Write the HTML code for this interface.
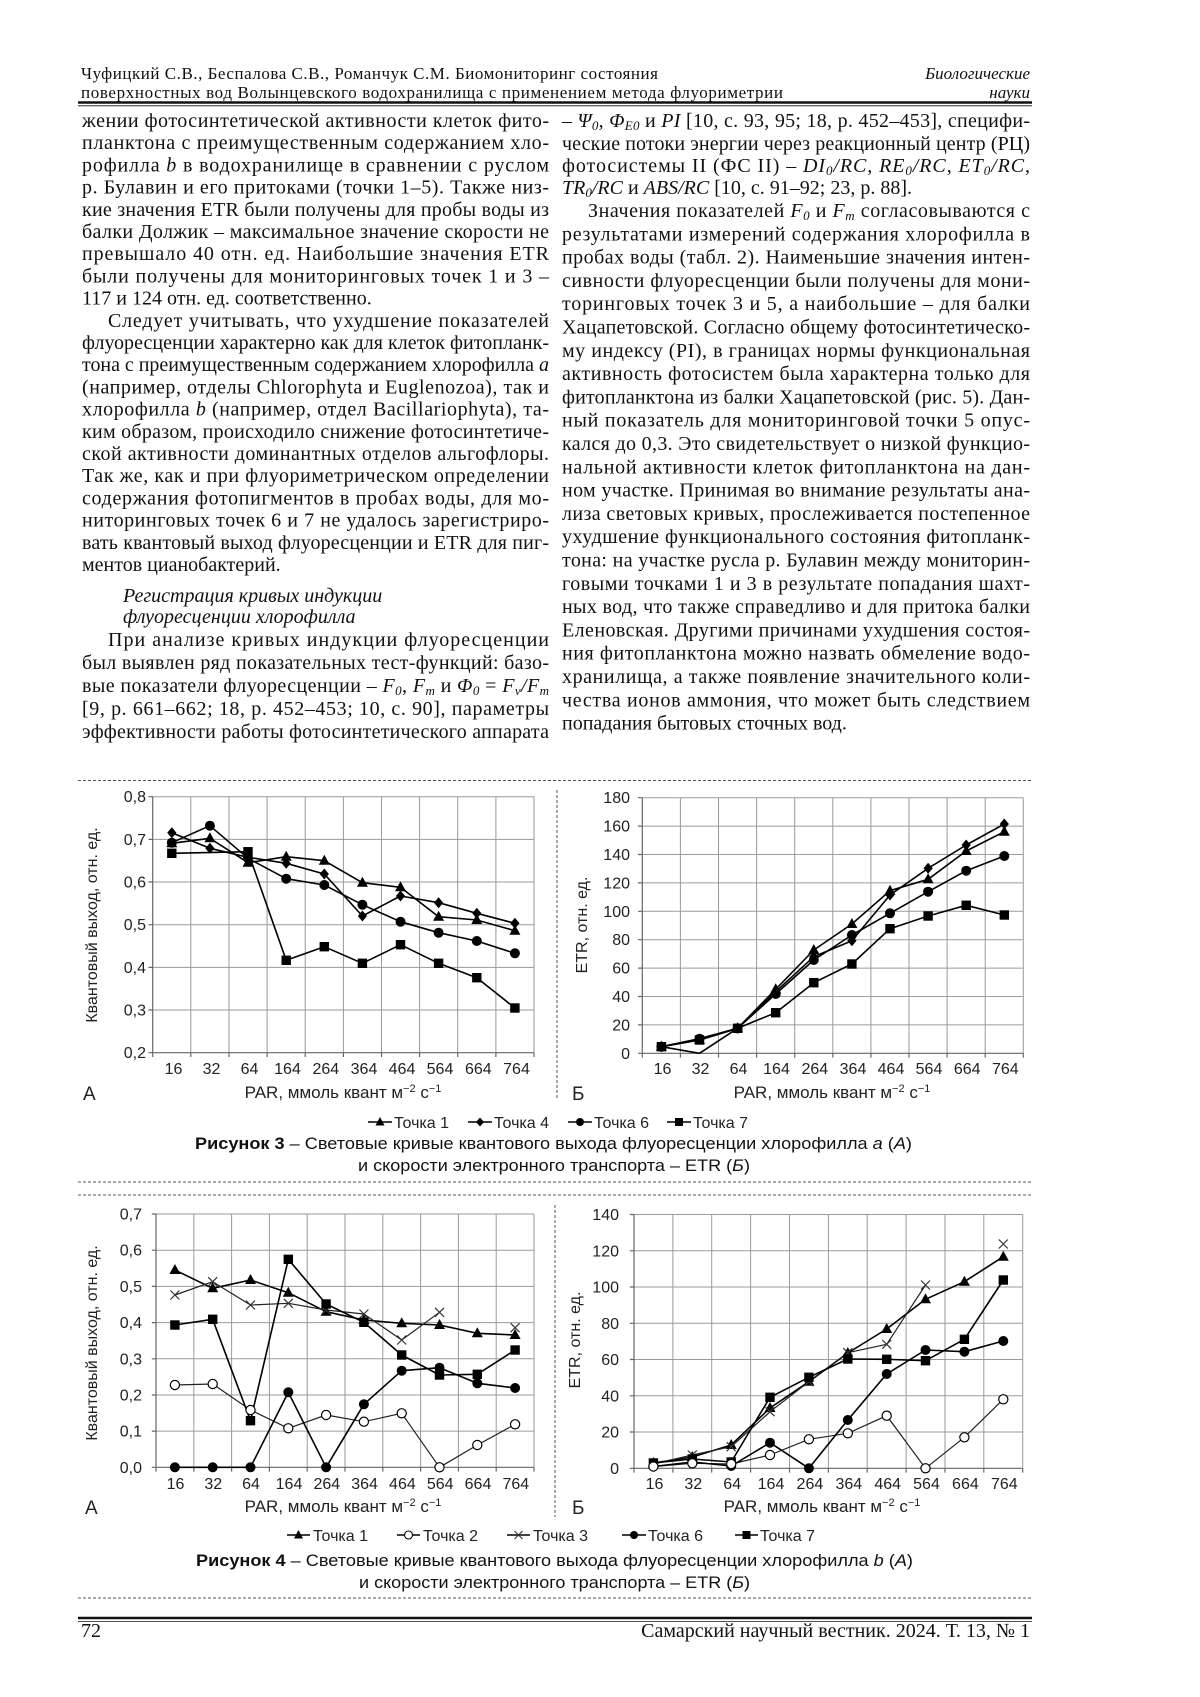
<!DOCTYPE html>
<html><head><meta charset="utf-8">
<style>
html,body{margin:0;padding:0;background:#fff}
svg{display:block}
.b{font-family:"Liberation Serif","DejaVu Serif",serif;font-size:20px;fill:#111}
.h{font-family:"Liberation Serif","DejaVu Serif",serif;font-size:17px;fill:#111}
.s{font-family:"Liberation Sans","DejaVu Sans",sans-serif;font-size:16px;fill:#222}
.c{font-family:"Liberation Sans","DejaVu Sans",sans-serif;font-size:17px;fill:#111}
.grid{stroke:#9a9a9a;stroke-width:1;fill:none}
.ax{stroke:#666;stroke-width:1.2;fill:none}
.ln{stroke:#000;stroke-width:1.6;fill:none;stroke-linejoin:round}
.ln2{stroke:#222;stroke-width:1.2;fill:none;stroke-linejoin:round}
.dash{stroke:#555;stroke-width:1;stroke-dasharray:3 2;fill:none}
</style></head>
<body>
<svg width="1200" height="1697" viewBox="0 0 1200 1697" xmlns="http://www.w3.org/2000/svg">
<defs>
<path id="tri" d="M0,-6 L5.5,4 L-5.5,4Z" fill="#000"/>
<path id="dia" d="M0,-5.5 L4.6,0 L0,5.5 L-4.6,0Z" fill="#000"/>
<circle id="cir" r="5" fill="#000"/>
<rect id="sq" x="-4.7" y="-4.7" width="9.4" height="9.4" fill="#000"/>
<circle id="oc" r="4.6" fill="#fff" stroke="#000" stroke-width="1.2"/>
<path id="xm" d="M-4.5,-4.5L4.5,4.5M-4.5,4.5L4.5,-4.5" stroke="#333" stroke-width="1.2" fill="none"/>
<path id="tris" d="M0,-5 L4.5,3.5 L-4.5,3.5Z" fill="#000"/>
<path id="dias" d="M0,-4.5 L4,0 L0,4.5 L-4,0Z" fill="#000"/>
<circle id="cirs" r="4" fill="#000"/>
<rect id="sqs" x="-4" y="-4" width="8" height="8" fill="#000"/>
<circle id="ocs" r="4" fill="#fff" stroke="#000" stroke-width="1.1"/>
<path id="xms" d="M-4,-4L4,4M-4,4L4,-4" stroke="#333" stroke-width="1.1" fill="none"/>
</defs>

<!-- HEADER -->
<text class="h" x="81" y="79" textLength="577" lengthAdjust="spacing">Чуфицкий С.В., Беспалова С.В., Романчук С.М. Биомониторинг состояния</text>
<text class="h" x="81" y="98" textLength="702" lengthAdjust="spacing">поверхностных вод Волынцевского водохранилища с применением метода флуориметрии</text>
<text class="h" x="1030" y="79" text-anchor="end" font-style="italic">Биологические</text>
<text class="h" x="1030" y="98" text-anchor="end" font-style="italic">науки</text>
<line x1="78" y1="102.5" x2="1032" y2="102.5" stroke="#111" stroke-width="2.4"/>
<line x1="78" y1="105.8" x2="1032" y2="105.8" stroke="#111" stroke-width="0.8"/>

<!-- LEFT COLUMN -->
<text class="b" x="82" y="127" textLength="467" lengthAdjust="spacing">жении фотосинтетической активности клеток фито-</text>
<text class="b" x="82" y="149.2" textLength="467" lengthAdjust="spacing">планктона с преимущественным содержанием хло-</text>
<text class="b" x="82" y="171.4" textLength="467" lengthAdjust="spacing">рофилла <tspan font-style="italic">b</tspan> в водохранилище в сравнении с руслом</text>
<text class="b" x="82" y="193.6" textLength="467" lengthAdjust="spacing">р. Булавин и его притоками (точки 1–5). Также низ-</text>
<text class="b" x="82" y="215.8" textLength="467" lengthAdjust="spacing">кие значения ETR были получены для пробы воды из</text>
<text class="b" x="82" y="238" textLength="467" lengthAdjust="spacing">балки Должик – максимальное значение скорости не</text>
<text class="b" x="82" y="260.2" textLength="467" lengthAdjust="spacing">превышало 40 отн. ед. Наибольшие значения ETR</text>
<text class="b" x="82" y="282.4" textLength="467" lengthAdjust="spacing">были получены для мониторинговых точек 1 и 3 –</text>
<text class="b" x="82" y="304.6">117 и 124 отн. ед. соответственно.</text>
<text class="b" x="108" y="326.8" textLength="441" lengthAdjust="spacing">Следует учитывать, что ухудшение показателей</text>
<text class="b" x="82" y="349" textLength="467" lengthAdjust="spacing">флуоресценции характерно как для клеток фитопланк-</text>
<text class="b" x="82" y="371.2" textLength="467" lengthAdjust="spacing">тона с преимущественным содержанием хлорофилла <tspan font-style="italic">a</tspan></text>
<text class="b" x="82" y="393.4" textLength="467" lengthAdjust="spacing">(например, отделы Chlorophyta и Euglenozoa), так и</text>
<text class="b" x="82" y="415.6" textLength="467" lengthAdjust="spacing">хлорофилла <tspan font-style="italic">b</tspan> (например, отдел Bacillariophyta), та-</text>
<text class="b" x="82" y="437.8" textLength="467" lengthAdjust="spacing">ким образом, происходило снижение фотосинтетиче-</text>
<text class="b" x="82" y="460" textLength="467" lengthAdjust="spacing">ской активности доминантных отделов альгофлоры.</text>
<text class="b" x="82" y="482.2" textLength="467" lengthAdjust="spacing">Так же, как и при флуориметрическом определении</text>
<text class="b" x="82" y="504.4" textLength="467" lengthAdjust="spacing">содержания фотопигментов в пробах воды, для мо-</text>
<text class="b" x="82" y="526.6" textLength="467" lengthAdjust="spacing">ниторинговых точек 6 и 7 не удалось зарегистриро-</text>
<text class="b" x="82" y="548.8" textLength="467" lengthAdjust="spacing">вать квантовый выход флуоресценции и ETR для пиг-</text>
<text class="b" x="82" y="571">ментов цианобактерий.</text>
<text class="b" x="123" y="602" font-style="italic">Регистрация кривых индукции</text>
<text class="b" x="123" y="623" font-style="italic">флуоресценции хлорофилла</text>
<text class="b" x="108" y="646" textLength="441" lengthAdjust="spacing">При анализе кривых индукции флуоресценции</text>
<text class="b" x="82" y="669" textLength="467" lengthAdjust="spacing">был выявлен ряд показательных тест-функций: базо-</text>
<text class="b" x="82" y="692" textLength="467" lengthAdjust="spacing">вые показатели флуоресценции – <tspan font-style="italic">F</tspan><tspan font-size="13" font-style="italic" baseline-shift="-3">0</tspan>, <tspan font-style="italic">F</tspan><tspan font-size="13" font-style="italic" baseline-shift="-3">m</tspan> и <tspan font-style="italic">Φ</tspan><tspan font-size="13" font-style="italic" baseline-shift="-3">0</tspan> = <tspan font-style="italic">F</tspan><tspan font-size="13" font-style="italic" baseline-shift="-3">v</tspan><tspan font-style="italic">/F</tspan><tspan font-size="13" font-style="italic" baseline-shift="-3">m</tspan></text>
<text class="b" x="82" y="715" textLength="467" lengthAdjust="spacing">[9, p. 661–662; 18, p. 452–453; 10, c. 90], параметры</text>
<text class="b" x="82" y="738" textLength="467" lengthAdjust="spacing">эффективности работы фотосинтетического аппарата</text>

<!-- RIGHT COLUMN -->
<text class="b" x="562" y="127" textLength="468" lengthAdjust="spacing">– <tspan font-style="italic">Ψ</tspan><tspan font-size="13" font-style="italic" baseline-shift="-3">0</tspan>, <tspan font-style="italic">Φ</tspan><tspan font-size="13" font-style="italic" baseline-shift="-3">E0</tspan> и <tspan font-style="italic">PI</tspan> [10, c. 93, 95; 18, p. 452–453], специфи-</text>
<text class="b" x="562" y="150" textLength="468" lengthAdjust="spacing">ческие потоки энергии через реакционный центр (РЦ)</text>
<text class="b" x="562" y="172" textLength="468" lengthAdjust="spacing">фотосистемы II (ФС II) – <tspan font-style="italic">DI</tspan><tspan font-size="13" font-style="italic" baseline-shift="-3">0</tspan><tspan font-style="italic">/RC</tspan>, <tspan font-style="italic">RE</tspan><tspan font-size="13" font-style="italic" baseline-shift="-3">0</tspan><tspan font-style="italic">/RC</tspan>, <tspan font-style="italic">ET</tspan><tspan font-size="13" font-style="italic" baseline-shift="-3">0</tspan><tspan font-style="italic">/RC</tspan>,</text>
<text class="b" x="562" y="194"><tspan font-style="italic">TR</tspan><tspan font-size="13" font-style="italic" baseline-shift="-3">0</tspan><tspan font-style="italic">/RC</tspan> и <tspan font-style="italic">ABS/RC</tspan> [10, c. 91–92; 23, p. 88].</text>
<text class="b" x="588" y="217" textLength="442" lengthAdjust="spacing">Значения показателей <tspan font-style="italic">F</tspan><tspan font-size="13" font-style="italic" baseline-shift="-3">0</tspan> и <tspan font-style="italic">F</tspan><tspan font-size="13" font-style="italic" baseline-shift="-3">m</tspan> согласовываются с</text>
<text class="b" x="562" y="240.3" textLength="468" lengthAdjust="spacing">результатами измерений содержания хлорофилла в</text>
<text class="b" x="562" y="263.6" textLength="468" lengthAdjust="spacing">пробах воды (табл. 2). Наименьшие значения интен-</text>
<text class="b" x="562" y="286.9" textLength="468" lengthAdjust="spacing">сивности флуоресценции были получены для мони-</text>
<text class="b" x="562" y="310.2" textLength="468" lengthAdjust="spacing">торинговых точек 3 и 5, а наибольшие – для балки</text>
<text class="b" x="562" y="333.5" textLength="468" lengthAdjust="spacing">Хацапетовской. Согласно общему фотосинтетическо-</text>
<text class="b" x="562" y="356.8" textLength="468" lengthAdjust="spacing">му индексу (PI), в границах нормы функциональная</text>
<text class="b" x="562" y="380.1" textLength="468" lengthAdjust="spacing">активность фотосистем была характерна только для</text>
<text class="b" x="562" y="403.4" textLength="468" lengthAdjust="spacing">фитопланктона из балки Хацапетовской (рис. 5). Дан-</text>
<text class="b" x="562" y="426.7" textLength="468" lengthAdjust="spacing">ный показатель для мониторинговой точки 5 опус-</text>
<text class="b" x="562" y="450" textLength="468" lengthAdjust="spacing">кался до 0,3. Это свидетельствует о низкой функцио-</text>
<text class="b" x="562" y="473.3" textLength="468" lengthAdjust="spacing">нальной активности клеток фитопланктона на дан-</text>
<text class="b" x="562" y="496.6" textLength="468" lengthAdjust="spacing">ном участке. Принимая во внимание результаты ана-</text>
<text class="b" x="562" y="519.9" textLength="468" lengthAdjust="spacing">лиза световых кривых, прослеживается постепенное</text>
<text class="b" x="562" y="543.2" textLength="468" lengthAdjust="spacing">ухудшение функционального состояния фитопланк-</text>
<text class="b" x="562" y="566.5" textLength="468" lengthAdjust="spacing">тона: на участке русла р. Булавин между мониторин-</text>
<text class="b" x="562" y="589.8" textLength="468" lengthAdjust="spacing">говыми точками 1 и 3 в результате попадания шахт-</text>
<text class="b" x="562" y="613.1" textLength="468" lengthAdjust="spacing">ных вод, что также справедливо и для притока балки</text>
<text class="b" x="562" y="636.4" textLength="468" lengthAdjust="spacing">Еленовская. Другими причинами ухудшения состоя-</text>
<text class="b" x="562" y="659.7" textLength="468" lengthAdjust="spacing">ния фитопланктона можно назвать обмеление водо-</text>
<text class="b" x="562" y="683" textLength="468" lengthAdjust="spacing">хранилища, а также появление значительного коли-</text>
<text class="b" x="562" y="706.3" textLength="468" lengthAdjust="spacing">чества ионов аммония, что может быть следствием</text>
<text class="b" x="562" y="729.6">попадания бытовых сточных вод.</text>

<!-- FIGURE 3 separators -->
<line class="dash" x1="78" y1="780.5" x2="1032" y2="780.5"/>
<line class="dash" x1="557" y1="790" x2="557" y2="1100"/>

<!-- CHART 3A -->
<path class="grid" d="M152.7 796.7H534M152.7 839.4H534M152.7 882H534M152.7 924.7H534M152.7 967.4H534M152.7 1010H534M190.8 796.7V1052.7M229 796.7V1052.7M267.1 796.7V1052.7M305.2 796.7V1052.7M343.4 796.7V1052.7M381.5 796.7V1052.7M419.6 796.7V1052.7M457.7 796.7V1052.7M495.9 796.7V1052.7M534 796.7V1052.7"/>
<path class="ax" d="M152.7 796.7V1052.7H534M148.5 796.7H152.7M148.5 839.4H152.7M148.5 882H152.7M148.5 924.7H152.7M148.5 967.4H152.7M148.5 1010H152.7M148.5 1052.7H152.7M152.7 1052.7V1057M190.8 1052.7V1057M229 1052.7V1057M267.1 1052.7V1057M305.2 1052.7V1057M343.4 1052.7V1057M381.5 1052.7V1057M419.6 1052.7V1057M457.7 1052.7V1057M495.9 1052.7V1057M534 1052.7V1057"/>
<g class="s" text-anchor="end">
<text x="146" y="802.2">0,8</text><text x="146" y="844.9">0,7</text><text x="146" y="887.5">0,6</text><text x="146" y="930.2">0,5</text><text x="146" y="972.9">0,4</text><text x="146" y="1015.5">0,3</text><text x="146" y="1058.2">0,2</text>
</g>
<g class="s" text-anchor="middle">
<text x="173.5" y="1074">16</text><text x="211.5" y="1074">32</text><text x="249.5" y="1074">64</text><text x="287.5" y="1074">164</text><text x="325.8" y="1074">264</text><text x="364" y="1074">364</text><text x="402" y="1074">464</text><text x="440" y="1074">564</text><text x="478.3" y="1074">664</text><text x="516.5" y="1074">764</text>
<text x="343" y="1098" style="font-size:17px">PAR, ммоль квант м<tspan style="font-size:11px" baseline-shift="6">−2</tspan> с<tspan style="font-size:11px" baseline-shift="6">−1</tspan></text>
<text transform="translate(97,925) rotate(-90)">Квантовый выход, отн. ед.</text>
</g>
<text class="s" x="83" y="1100" style="font-size:19px">А</text>
<polyline class="ln" points="171.8,843.3 209.9,838.3 248,862.7 286.2,856.7 324.3,860.7 362.4,882.7 400.5,887.3 438.6,916.7 476.8,920 514.9,930.7"/>
<polyline class="ln" points="171.8,832.7 209.9,848.3 248,857.3 286.2,863.3 324.3,874 362.4,916 400.5,896 438.6,902.7 476.8,913.3 514.9,923.3"/>
<polyline class="ln" points="171.8,842.7 209.9,825.7 248,858.3 286.2,878.7 324.3,885 362.4,904.7 400.5,921.7 438.6,932.7 476.8,941 514.9,953.3"/>
<polyline class="ln" points="171.8,853.3 248,851.7 286.2,960.3 324.3,946.7 362.4,963.3 400.5,944.7 438.6,963.3 476.8,977.7 514.9,1008"/>
<g>
<use href="#tri" x="171.8" y="843.3"/><use href="#tri" x="209.9" y="838.3"/><use href="#tri" x="248" y="862.7"/><use href="#tri" x="286.2" y="856.7"/><use href="#tri" x="324.3" y="860.7"/><use href="#tri" x="362.4" y="882.7"/><use href="#tri" x="400.5" y="887.3"/><use href="#tri" x="438.6" y="916.7"/><use href="#tri" x="476.8" y="920"/><use href="#tri" x="514.9" y="930.7"/>
<use href="#dia" x="171.8" y="832.7"/><use href="#dia" x="209.9" y="848.3"/><use href="#dia" x="248" y="857.3"/><use href="#dia" x="286.2" y="863.3"/><use href="#dia" x="324.3" y="874"/><use href="#dia" x="362.4" y="916"/><use href="#dia" x="400.5" y="896"/><use href="#dia" x="438.6" y="902.7"/><use href="#dia" x="476.8" y="913.3"/><use href="#dia" x="514.9" y="923.3"/>
<use href="#cir" x="171.8" y="842.7"/><use href="#cir" x="209.9" y="825.7"/><use href="#cir" x="248" y="858.3"/><use href="#cir" x="286.2" y="878.7"/><use href="#cir" x="324.3" y="885"/><use href="#cir" x="362.4" y="904.7"/><use href="#cir" x="400.5" y="921.7"/><use href="#cir" x="438.6" y="932.7"/><use href="#cir" x="476.8" y="941"/><use href="#cir" x="514.9" y="953.3"/>
<use href="#sq" x="171.8" y="853.3"/><use href="#sq" x="248" y="851.7"/><use href="#sq" x="286.2" y="960.3"/><use href="#sq" x="324.3" y="946.7"/><use href="#sq" x="362.4" y="963.3"/><use href="#sq" x="400.5" y="944.7"/><use href="#sq" x="438.6" y="963.3"/><use href="#sq" x="476.8" y="977.7"/><use href="#sq" x="514.9" y="1008"/>
</g>

<!-- CHART 3B -->
<path class="grid" d="M642.3 797.7H1023.3M642.3 826.1H1023.3M642.3 854.5H1023.3M642.3 882.9H1023.3M642.3 911.3H1023.3M642.3 939.7H1023.3M642.3 968.1H1023.3M642.3 996.5H1023.3M642.3 1024.9H1023.3M680.4 797.7V1053.3M718.5 797.7V1053.3M756.6 797.7V1053.3M794.7 797.7V1053.3M832.8 797.7V1053.3M870.9 797.7V1053.3M909 797.7V1053.3M947.1 797.7V1053.3M985.2 797.7V1053.3M1023.3 797.7V1053.3"/>
<path class="ax" d="M642.3 797.7V1053.3H1023.3M638 797.7H642.3M638 826.1H642.3M638 854.5H642.3M638 882.9H642.3M638 911.3H642.3M638 939.7H642.3M638 968.1H642.3M638 996.5H642.3M638 1024.9H642.3M638 1053.3H642.3M642.3 1053.3V1057.6M680.4 1053.3V1057.6M718.5 1053.3V1057.6M756.6 1053.3V1057.6M794.7 1053.3V1057.6M832.8 1053.3V1057.6M870.9 1053.3V1057.6M909 1053.3V1057.6M947.1 1053.3V1057.6M985.2 1053.3V1057.6M1023.3 1053.3V1057.6"/>
<g class="s" text-anchor="end">
<text x="630" y="803.2">180</text><text x="630" y="831.6">160</text><text x="630" y="860">140</text><text x="630" y="888.4">120</text><text x="630" y="916.8">100</text><text x="630" y="945.2">80</text><text x="630" y="973.6">60</text><text x="630" y="1002">40</text><text x="630" y="1030.4">20</text><text x="630" y="1058.8">0</text>
</g>
<g class="s" text-anchor="middle">
<text x="662.5" y="1074">16</text><text x="700.5" y="1074">32</text><text x="738.5" y="1074">64</text><text x="776.5" y="1074">164</text><text x="814.8" y="1074">264</text><text x="853" y="1074">364</text><text x="891" y="1074">464</text><text x="929" y="1074">564</text><text x="967.2" y="1074">664</text><text x="1005.3" y="1074">764</text>
<text x="832" y="1098" style="font-size:17px">PAR, ммоль квант м<tspan style="font-size:11px" baseline-shift="6">−2</tspan> с<tspan style="font-size:11px" baseline-shift="6">−1</tspan></text>
<text transform="translate(587,925) rotate(-90)">ETR, отн. ед.</text>
</g>
<text class="s" x="572" y="1100" style="font-size:19px">Б</text>
<polyline class="ln" points="661.4,1046.7 699.5,1040 737.6,1028.3 775.7,989.3 813.8,950 851.9,924 890,890.7 928.1,879.3 966.2,851 1004.3,831.7"/>
<polyline class="ln" points="661.4,1046.7 699.5,1053.3 737.6,1028.3 775.7,991.7 813.8,956.7 851.9,940.7 890,895 928.1,868.3 966.2,845 1004.3,824"/>
<polyline class="ln" points="661.4,1046.7 699.5,1038.7 737.6,1028.3 775.7,994 813.8,960 851.9,935 890,913.3 928.1,891.7 966.2,870.7 1004.3,856"/>
<polyline class="ln" points="661.4,1046.7 699.5,1040 737.6,1028.3 775.7,1012.7 813.8,982.7 851.9,964 890,928.7 928.1,916 966.2,905.3 1004.3,915"/>
<g>
<use href="#tri" x="661.4" y="1046.7"/><use href="#tri" x="699.5" y="1040"/><use href="#tri" x="737.6" y="1028.3"/><use href="#tri" x="775.7" y="989.3"/><use href="#tri" x="813.8" y="950"/><use href="#tri" x="851.9" y="924"/><use href="#tri" x="890" y="890.7"/><use href="#tri" x="928.1" y="879.3"/><use href="#tri" x="966.2" y="851"/><use href="#tri" x="1004.3" y="831.7"/>
<use href="#dia" x="661.4" y="1046.7"/><use href="#dia" x="737.6" y="1028.3"/><use href="#dia" x="775.7" y="991.7"/><use href="#dia" x="813.8" y="956.7"/><use href="#dia" x="851.9" y="940.7"/><use href="#dia" x="890" y="895"/><use href="#dia" x="928.1" y="868.3"/><use href="#dia" x="966.2" y="845"/><use href="#dia" x="1004.3" y="824"/>
<use href="#cir" x="661.4" y="1046.7"/><use href="#cir" x="699.5" y="1038.7"/><use href="#cir" x="737.6" y="1028.3"/><use href="#cir" x="775.7" y="994"/><use href="#cir" x="813.8" y="960"/><use href="#cir" x="851.9" y="935"/><use href="#cir" x="890" y="913.3"/><use href="#cir" x="928.1" y="891.7"/><use href="#cir" x="966.2" y="870.7"/><use href="#cir" x="1004.3" y="856"/>
<use href="#sq" x="661.4" y="1046.7"/><use href="#sq" x="699.5" y="1040"/><use href="#sq" x="737.6" y="1028.3"/><use href="#sq" x="775.7" y="1012.7"/><use href="#sq" x="813.8" y="982.7"/><use href="#sq" x="851.9" y="964"/><use href="#sq" x="890" y="928.7"/><use href="#sq" x="928.1" y="916"/><use href="#sq" x="966.2" y="905.3"/><use href="#sq" x="1004.3" y="915"/>
</g>

<!-- LEGEND FIG 3 -->
<path stroke="#000" stroke-width="1.5" d="M368 1122H392M468 1122H492M568 1122H592M667 1122H691"/>
<use href="#tris" x="380" y="1122"/><use href="#dias" x="480" y="1122"/><use href="#cirs" x="580" y="1122"/><use href="#sqs" x="679" y="1122"/>
<g class="s"><text x="394" y="1128">Точка 1</text><text x="494" y="1128">Точка 4</text><text x="594" y="1128">Точка 6</text><text x="693" y="1128">Точка 7</text></g>
<text class="c" x="195" y="1149" textLength="717" lengthAdjust="spacingAndGlyphs"><tspan font-weight="bold">Рисунок 3</tspan> – Световые кривые квантового выхода флуоресценции хлорофилла <tspan font-style="italic">a</tspan> (<tspan font-style="italic">А</tspan>)</text>
<text class="c" x="358" y="1171" textLength="392" lengthAdjust="spacingAndGlyphs">и скорости электронного транспорта – ETR (<tspan font-style="italic">Б</tspan>)</text>
<line class="dash" x1="78" y1="1182" x2="1032" y2="1182"/>
<line class="dash" x1="78" y1="1195" x2="1032" y2="1195"/>

<!-- FIGURE 4 separator -->
<line class="dash" x1="555" y1="1205" x2="555" y2="1517"/>

<!-- CHART 4A -->
<path class="grid" d="M156 1214H534M156 1250.2H534M156 1286.4H534M156 1322.6H534M156 1358.8H534M156 1395H534M156 1431.1H534M193.8 1214V1467.3M231.6 1214V1467.3M269.4 1214V1467.3M307.2 1214V1467.3M345 1214V1467.3M382.8 1214V1467.3M420.6 1214V1467.3M458.4 1214V1467.3M496.2 1214V1467.3M534 1214V1467.3"/>
<path class="ax" d="M156 1214V1467.3H534M151.8 1214H156M151.8 1250.2H156M151.8 1286.4H156M151.8 1322.6H156M151.8 1358.8H156M151.8 1395H156M151.8 1431.1H156M151.8 1467.3H156M156 1467.3V1471.6M193.8 1467.3V1471.6M231.6 1467.3V1471.6M269.4 1467.3V1471.6M307.2 1467.3V1471.6M345 1467.3V1471.6M382.8 1467.3V1471.6M420.6 1467.3V1471.6M458.4 1467.3V1471.6M496.2 1467.3V1471.6M534 1467.3V1471.6"/>
<g class="s" text-anchor="end">
<text x="142" y="1219.5">0,7</text><text x="142" y="1255.7">0,6</text><text x="142" y="1291.9">0,5</text><text x="142" y="1328.1">0,4</text><text x="142" y="1364.3">0,3</text><text x="142" y="1400.5">0,2</text><text x="142" y="1436.6">0,1</text><text x="142" y="1472.8">0,0</text>
</g>
<g class="s" text-anchor="middle">
<text x="175.5" y="1489">16</text><text x="213.3" y="1489">32</text><text x="251" y="1489">64</text><text x="289" y="1489">164</text><text x="326.8" y="1489">264</text><text x="364.6" y="1489">364</text><text x="402.4" y="1489">464</text><text x="440.2" y="1489">564</text><text x="478" y="1489">664</text><text x="515.8" y="1489">764</text>
<text x="343" y="1512" style="font-size:17px">PAR, ммоль квант м<tspan style="font-size:11px" baseline-shift="6">−2</tspan> с<tspan style="font-size:11px" baseline-shift="6">−1</tspan></text>
<text transform="translate(97,1343) rotate(-90)">Квантовый выход, отн. ед.</text>
</g>
<text class="s" x="85" y="1514" style="font-size:19px">А</text>
<polyline class="ln" points="174.9,1270 212.7,1288.3 250.5,1280 288.3,1292.7 326.1,1311.7 363.9,1320 401.7,1323.3 439.5,1325 477.3,1333.3 515.1,1335"/>
<polyline class="ln2" points="174.9,1385 212.7,1384 250.5,1410 288.3,1428.3 326.1,1415 363.9,1421.7 401.7,1413.3 439.5,1467.3 477.3,1445 515.1,1424.3"/>
<polyline class="ln2" points="174.9,1295 212.7,1281.7 250.5,1305 288.3,1303.3 326.1,1310 363.9,1314 401.7,1340 439.5,1312.3"/>
<polyline class="ln" points="174.9,1467.3 212.7,1467.3 250.5,1467.3 288.3,1392.3 326.1,1467.3 363.9,1404.3 401.7,1370.7 439.5,1367.7 477.3,1383.3 515.1,1388"/>
<polyline class="ln" points="174.9,1325 212.7,1319.3 250.5,1420.7 288.3,1259.3 326.1,1304 363.9,1322.3 401.7,1355 439.5,1375 477.3,1374.3 515.1,1350"/>
<g>
<use href="#tri" x="174.9" y="1270"/><use href="#tri" x="212.7" y="1288.3"/><use href="#tri" x="250.5" y="1280"/><use href="#tri" x="288.3" y="1292.7"/><use href="#tri" x="326.1" y="1311.7"/><use href="#tri" x="363.9" y="1320"/><use href="#tri" x="401.7" y="1323.3"/><use href="#tri" x="439.5" y="1325"/><use href="#tri" x="477.3" y="1333.3"/><use href="#tri" x="515.1" y="1335"/>
<use href="#xm" x="174.9" y="1295"/><use href="#xm" x="212.7" y="1281.7"/><use href="#xm" x="250.5" y="1305"/><use href="#xm" x="288.3" y="1303.3"/><use href="#xm" x="326.1" y="1310"/><use href="#xm" x="363.9" y="1314"/><use href="#xm" x="401.7" y="1340"/><use href="#xm" x="439.5" y="1312.3"/><use href="#xm" x="515.1" y="1327.7"/>
<use href="#cir" x="174.9" y="1467.3"/><use href="#cir" x="212.7" y="1467.3"/><use href="#cir" x="250.5" y="1467.3"/><use href="#cir" x="288.3" y="1392.3"/><use href="#cir" x="326.1" y="1467.3"/><use href="#cir" x="363.9" y="1404.3"/><use href="#cir" x="401.7" y="1370.7"/><use href="#cir" x="439.5" y="1367.7"/><use href="#cir" x="477.3" y="1383.3"/><use href="#cir" x="515.1" y="1388"/>
<use href="#sq" x="174.9" y="1325"/><use href="#sq" x="212.7" y="1319.3"/><use href="#sq" x="250.5" y="1420.7"/><use href="#sq" x="288.3" y="1259.3"/><use href="#sq" x="326.1" y="1304"/><use href="#sq" x="363.9" y="1322.3"/><use href="#sq" x="401.7" y="1355"/><use href="#sq" x="439.5" y="1375"/><use href="#sq" x="477.3" y="1374.3"/><use href="#sq" x="515.1" y="1350"/>
<use href="#oc" x="174.9" y="1385"/><use href="#oc" x="212.7" y="1384"/><use href="#oc" x="250.5" y="1410"/><use href="#oc" x="288.3" y="1428.3"/><use href="#oc" x="326.1" y="1415"/><use href="#oc" x="363.9" y="1421.7"/><use href="#oc" x="401.7" y="1413.3"/><use href="#oc" x="439.5" y="1467.3"/><use href="#oc" x="477.3" y="1445"/><use href="#oc" x="515.1" y="1424.3"/>
</g>

<!-- CHART 4B -->
<path class="grid" d="M634 1214.5H1022.7M634 1250.8H1022.7M634 1287H1022.7M634 1323.3H1022.7M634 1359.5H1022.7M634 1395.8H1022.7M634 1432H1022.7M672.9 1214.5V1468.3M711.7 1214.5V1468.3M750.6 1214.5V1468.3M789.5 1214.5V1468.3M828.4 1214.5V1468.3M867.2 1214.5V1468.3M906.1 1214.5V1468.3M945 1214.5V1468.3M983.8 1214.5V1468.3M1022.7 1214.5V1468.3"/>
<path class="ax" d="M634 1214.5V1468.3H1022.7M629.8 1214.5H634M629.8 1250.8H634M629.8 1287H634M629.8 1323.3H634M629.8 1359.5H634M629.8 1395.8H634M629.8 1432H634M629.8 1468.3H634M634 1468.3V1472.6M672.9 1468.3V1472.6M711.7 1468.3V1472.6M750.6 1468.3V1472.6M789.5 1468.3V1472.6M828.4 1468.3V1472.6M867.2 1468.3V1472.6M906.1 1468.3V1472.6M945 1468.3V1472.6M983.8 1468.3V1472.6M1022.7 1468.3V1472.6"/>
<g class="s" text-anchor="end">
<text x="619" y="1220">140</text><text x="619" y="1256.3">120</text><text x="619" y="1292.5">100</text><text x="619" y="1328.8">80</text><text x="619" y="1365">60</text><text x="619" y="1401.3">40</text><text x="619" y="1437.5">20</text><text x="619" y="1473.8">0</text>
</g>
<g class="s" text-anchor="middle">
<text x="654.5" y="1489">16</text><text x="693.3" y="1489">32</text><text x="732.2" y="1489">64</text><text x="771" y="1489">164</text><text x="809.9" y="1489">264</text><text x="848.8" y="1489">364</text><text x="887.7" y="1489">464</text><text x="926.5" y="1489">564</text><text x="965.4" y="1489">664</text><text x="1004.3" y="1489">764</text>
<text x="822" y="1512" style="font-size:17px">PAR, ммоль квант м<tspan style="font-size:11px" baseline-shift="6">−2</tspan> с<tspan style="font-size:11px" baseline-shift="6">−1</tspan></text>
<text transform="translate(580,1340) rotate(-90)">ETR, отн. ед.</text>
</g>
<text class="s" x="572" y="1514" style="font-size:19px">Б</text>
<polyline class="ln" points="653.4,1463 692.3,1457 731.2,1445 770,1408 808.9,1381.7 847.8,1353 886.7,1329 925.5,1299.3 964.4,1281.7 1003.3,1256.7"/>
<polyline class="ln2" points="653.4,1466.5 692.3,1463.3 731.2,1464 770,1455 808.9,1439.3 847.8,1433.3 886.7,1415.7 925.5,1468.3 964.4,1437.3 1003.3,1399.3"/>
<polyline class="ln2" points="653.4,1464 692.3,1455 731.2,1446.7 770,1411.7 808.9,1381.7 847.8,1352.7 886.7,1344.3 925.5,1285"/>
<polyline class="ln" points="653.4,1466.5 692.3,1462 731.2,1466 770,1442.7 808.9,1468.3 847.8,1420 886.7,1374 925.5,1350 964.4,1351.7 1003.3,1341"/>
<polyline class="ln" points="653.4,1463 692.3,1459 731.2,1462 770,1397.3 808.9,1377.3 847.8,1359 886.7,1359.3 925.5,1360.7 964.4,1339.3 1003.3,1280"/>
<g>
<use href="#tri" x="653.4" y="1463"/><use href="#tri" x="692.3" y="1457"/><use href="#tri" x="731.2" y="1445"/><use href="#tri" x="770" y="1408"/><use href="#tri" x="808.9" y="1381.7"/><use href="#tri" x="847.8" y="1353"/><use href="#tri" x="886.7" y="1329"/><use href="#tri" x="925.5" y="1299.3"/><use href="#tri" x="964.4" y="1281.7"/><use href="#tri" x="1003.3" y="1256.7"/>
<use href="#xm" x="653.4" y="1464"/><use href="#xm" x="692.3" y="1455"/><use href="#xm" x="731.2" y="1446.7"/><use href="#xm" x="770" y="1411.7"/><use href="#xm" x="808.9" y="1381.7"/><use href="#xm" x="847.8" y="1352.7"/><use href="#xm" x="886.7" y="1344.3"/><use href="#xm" x="925.5" y="1285"/><use href="#xm" x="1003.3" y="1244"/>
<use href="#cir" x="653.4" y="1466.5"/><use href="#cir" x="692.3" y="1462"/><use href="#cir" x="731.2" y="1466"/><use href="#cir" x="770" y="1442.7"/><use href="#cir" x="808.9" y="1468.3"/><use href="#cir" x="847.8" y="1420"/><use href="#cir" x="886.7" y="1374"/><use href="#cir" x="925.5" y="1350"/><use href="#cir" x="964.4" y="1351.7"/><use href="#cir" x="1003.3" y="1341"/>
<use href="#sq" x="653.4" y="1463"/><use href="#sq" x="692.3" y="1459"/><use href="#sq" x="731.2" y="1462"/><use href="#sq" x="770" y="1397.3"/><use href="#sq" x="808.9" y="1377.3"/><use href="#sq" x="847.8" y="1359"/><use href="#sq" x="886.7" y="1359.3"/><use href="#sq" x="925.5" y="1360.7"/><use href="#sq" x="964.4" y="1339.3"/><use href="#sq" x="1003.3" y="1280"/>
<use href="#oc" x="653.4" y="1466.5"/><use href="#oc" x="692.3" y="1463.3"/><use href="#oc" x="731.2" y="1464"/><use href="#oc" x="770" y="1455"/><use href="#oc" x="808.9" y="1439.3"/><use href="#oc" x="847.8" y="1433.3"/><use href="#oc" x="886.7" y="1415.7"/><use href="#oc" x="925.5" y="1468.3"/><use href="#oc" x="964.4" y="1437.3"/><use href="#oc" x="1003.3" y="1399.3"/>
</g>

<!-- LEGEND FIG 4 -->
<path stroke="#000" stroke-width="1.5" d="M287 1535H310M397 1535H420M507 1535H530M622 1535H646M735 1535H758"/>
<use href="#tris" x="298.5" y="1535"/><use href="#ocs" x="408.5" y="1535"/><use href="#xms" x="518.5" y="1535"/><use href="#cirs" x="634" y="1535"/><use href="#sqs" x="746.5" y="1535"/>
<g class="s"><text x="313" y="1541">Точка 1</text><text x="423" y="1541">Точка 2</text><text x="533" y="1541">Точка 3</text><text x="648" y="1541">Точка 6</text><text x="760" y="1541">Точка 7</text></g>
<text class="c" x="196" y="1566" textLength="717" lengthAdjust="spacingAndGlyphs"><tspan font-weight="bold">Рисунок 4</tspan> – Световые кривые квантового выхода флуоресценции хлорофилла <tspan font-style="italic">b</tspan> (<tspan font-style="italic">А</tspan>)</text>
<text class="c" x="359" y="1588" textLength="391" lengthAdjust="spacingAndGlyphs">и скорости электронного транспорта – ETR (<tspan font-style="italic">Б</tspan>)</text>
<line class="dash" x1="78" y1="1598" x2="1032" y2="1598"/>

<!-- FOOTER -->
<line x1="78" y1="1618" x2="1032" y2="1618" stroke="#111" stroke-width="2.4"/>
<line x1="78" y1="1621.5" x2="1032" y2="1621.5" stroke="#111" stroke-width="0.8"/>
<text class="b" x="81" y="1637">72</text>
<text class="b" x="1030" y="1637" text-anchor="end">Самарский научный вестник. 2024. Т. 13, № 1</text>
</svg>
</body></html>
